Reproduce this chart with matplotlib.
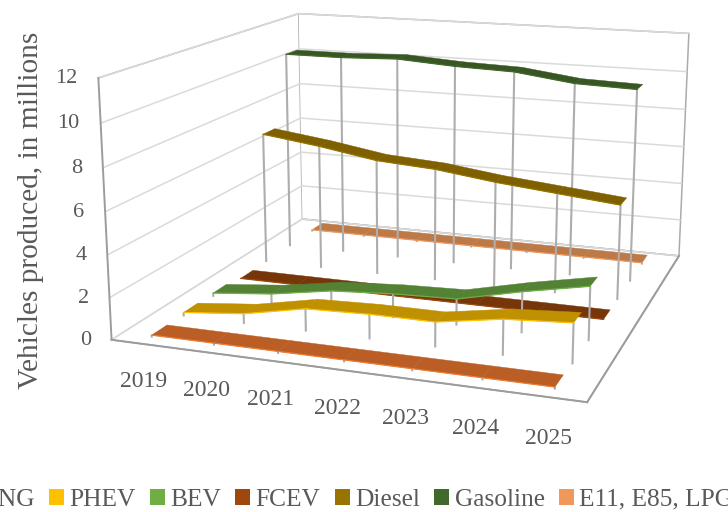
import matplotlib
matplotlib.use("Agg")
import matplotlib.pyplot as plt
from matplotlib.patches import Patch
from mpl_toolkits.mplot3d import proj3d
from mpl_toolkits.mplot3d.art3d import Poly3DCollection

plt.rcParams["font.family"] = ["Liberation Serif", "DejaVu Serif"]

# Data
years = ["2019", "2020", "2021", "2022", "2023", "2024", "2025"]
cng = [0.12, 0.12, 0.12, 0.12, 0.12, 0.12, 0.12]
phev = [0.2, 0.5, 1.1, 1.2, 1.2, 1.7, 1.9]
bev = [0.2, 0.5, 1.0, 1.2, 1.3, 2.0, 2.6]
fcev = [0.02, 0.02, 0.02, 0.02, 0.02, 0.02, 0.02]
diesel = [6.9, 6.5, 6.0, 5.8, 5.4, 5.1, 4.8]
gasoline = [10.6, 10.6, 10.7, 10.5, 10.4, 10.0, 9.9]
e_fuels = [0.1, 0.1, 0.1, 0.1, 0.1, 0.1, 0.1]
z_ticks = [0, 2, 4, 6, 8, 10, 12]

series_names = ["CNG", "PHEV", "BEV", "FCEV", "Diesel", "Gasoline", "E11, E85, LPG"]
series_values = [cng, phev, bev, fcev, diesel, gasoline, e_fuels]
# bright colour (front edge, legend) and the darker shade of the ribbon top
bright = ["#ED7D31", "#FFC000", "#70AD47", "#9E480E", "#997300", "#43682B", "#F1975A"]
shaded = ["#BB5E25", "#BF9000", "#548235", "#763609", "#7F6000", "#375623", "#BD7A49"]

text_gray = "#595959"

fig = plt.figure(figsize=(7.28, 5.12), dpi=100)
ax = fig.add_axes([79.77 / 728, -4.12 / 512, 661.6 / 728, 661.6 / 512],
                  projection="3d", computed_zorder=False)
ax.patch.set_alpha(0)

ax.view_init(elev=13.976, azim=-70.769, roll=-0.08)
ax.set_proj_type("persp", focal_length=0.4242)
ax.set_box_aspect((1, 0.9814, 0.547))

x = [i + 0.5 for i in range(len(years))]

# Ribbons, back series first so the front ones cover them
for k in range(len(series_names) - 1, -1, -1):
    vals = series_values[k]
    y_front = k + 0.28
    y_back = k + 0.75
    z0 = (len(series_names) - k) * 3
    for xi, v in zip(x, vals):
        ax.plot([xi, xi], [y_front, y_front], [0, v], color="#ADADAD", lw=1.5,
                solid_capstyle="butt", zorder=z0)
    quads = []
    for i in range(len(x) - 1):
        quads.append([(x[i], y_front, vals[i]), (x[i + 1], y_front, vals[i + 1]),
                      (x[i + 1], y_back, vals[i + 1]), (x[i], y_back, vals[i])])
    poly = Poly3DCollection(quads, facecolors=shaded[k], edgecolors=shaded[k], linewidths=0.3,
                            zorder=z0 + 1)
    ax.add_collection3d(poly)
    ax.plot(x, [y_front] * len(x), vals, color=bright[k], lw=0.9, zorder=z0 + 2)

ax.set_xlim(0, 7, view_margin=0)
ax.set_ylim(0, 7, view_margin=0)
ax.set_zlim(0, 12, view_margin=0)

ax.set_xticks(x)
ax.set_yticks([])
ax.set_zticks(z_ticks)
ax.zaxis.set_ticks_position("lower")
for axis in (ax.xaxis, ax.zaxis):
    for tick in axis.get_major_ticks():
        tick.label1.set_visible(False)
        tick.label2.set_visible(False)

# Excel puts these straight below / beside the axis, the 3d tick labels won't go there
M = ax.get_proj()
for xi, year in zip(x, years):
    px, py, _ = proj3d.proj_transform(xi, 0, -1.82, M)
    ax.text2D(px, py, year, transform=ax.transData, ha="center", va="center",
              fontsize=17, color=text_gray)
for zv in z_ticks:
    px, py, _ = proj3d.proj_transform(-0.256, -0.135, zv, M)
    ax.text2D(px, py, str(zv), transform=ax.transData, ha="right", va="center",
              fontsize=16, color=text_gray)

fig.text(31 / 728, 1 - 210 / 512, "Vehicles produced, in millions", rotation=90,
         ha="center", va="center", fontsize=21.2, color=text_gray)

for axis in (ax.xaxis, ax.yaxis, ax.zaxis):
    axis.set_pane_color((1, 1, 1, 1))
    axis.pane.set_edgecolor("#ABABAB")
    axis.pane.set_linewidth(1.1)
    axis.line.set_color("#9C9C9C")
    axis.line.set_linewidth(1.4)
    axis._axinfo["tick"]["inward_factor"] = 0
    axis._axinfo["tick"]["outward_factor"] = 0
    axis._axinfo["grid"]["linewidth"] = 0
ax.zaxis._axinfo["grid"]["linewidth"] = 1.1
ax.zaxis._axinfo["grid"]["color"] = "#DADADA"

handles = [Patch(facecolor=c, label=n) for c, n in zip(bright, series_names)]
fig.legend(handles=handles, ncol=7, loc="center left", bbox_to_anchor=(-39.5 / 728, 1 - 499.5 / 512),
           frameon=False, fontsize=18.25, labelcolor=text_gray, handlelength=0.6, handleheight=0.6,
           handletextpad=0.215, columnspacing=0.55, borderpad=0, borderaxespad=0)

fig.savefig("out.png", dpi=100)
